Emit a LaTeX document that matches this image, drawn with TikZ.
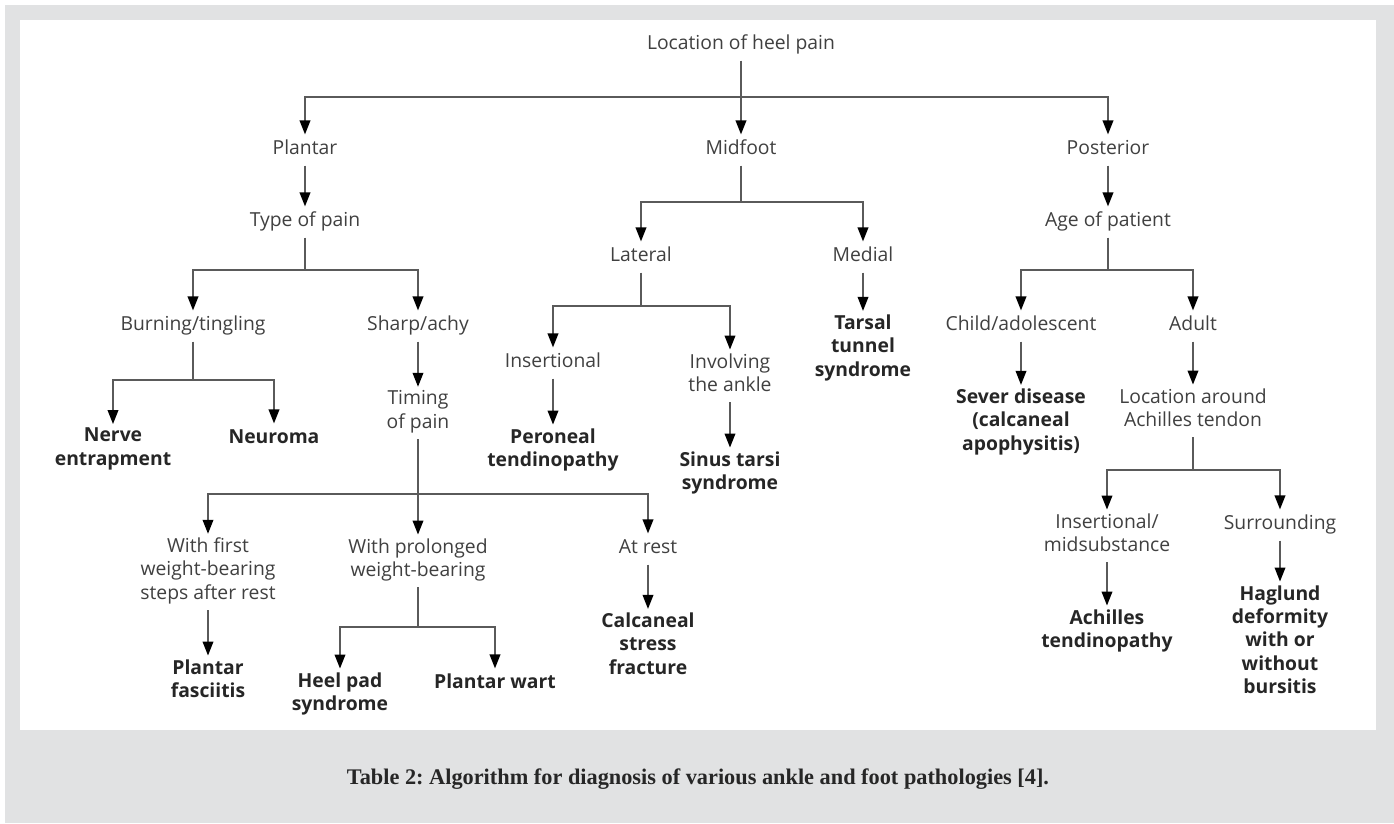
\documentclass[tikz,border=0pt]{standalone}
\usepackage{fontspec}
\setmainfont{Liberation Serif}
\newfontfamily\chartfont[Ligatures=NoCommon]{Open Sans}
\usetikzlibrary{arrows.meta}
\frenchspacing

\definecolor{panelgray}{HTML}{E1E2E3}
\definecolor{txtgray}{HTML}{404040}
\definecolor{linegray}{HTML}{5A5A5A}

\begin{document}
\begin{tikzpicture}[x=0.02cm, y=-0.02cm,
  lbl/.style={font=\chartfont\fontsize{11}{13.3}\selectfont, text=txtgray,
    align=center, inner xsep=1.5pt, inner ysep=2pt,
    execute at begin node=\strut, execute at end node=\strut},
  dx/.style={lbl, font=\chartfont\bfseries\fontsize{11}{13.3}\selectfont, text=black!85},
  ln/.style={linegray, line width=1.1pt},
  arr/.style={ln, -{Triangle[length=8pt, width=6pt, color=black]}}]

  % page and panel
  \useasboundingbox (0,0) rectangle (1394,823);
  \fill[panelgray] (5,5) rectangle (1394,823);
  \fill[white] (20,20) rectangle (1376,730);

  % top level
  \node[lbl] (root) at (741,45) {Location of heel pain};
  \node[lbl] (plantar) at (305,150) {Plantar};
  \node[lbl] (midfoot) at (741,150) {Midfoot};
  \node[lbl] (posterior) at (1108,150) {Posterior};
  \coordinate (top) at (741,97);

  % plantar branch
  \node[lbl] (typepain) at (305,222) {Type of pain};
  \coordinate (typesplit) at (305,270);
  \node[lbl] (burning) at (193,326) {Burning/tingling};
  \node[lbl] (sharp) at (418,326) {Sharp/achy};
  \coordinate (burnsplit) at (193,380);
  \node[dx] (nerve) at (113,450) {Nerve\\entrapment};
  \node[dx] (neuroma) at (274,439) {Neuroma};
  \node[lbl] (timing) at (418,413) {Timing\\of pain};
  \coordinate (timesplit) at (418,494);
  \node[lbl] (firststep) at (208,572) {With first\\weight-bearing\\steps after rest};
  \node[lbl] (prolonged) at (418,561) {With prolonged\\weight-bearing};
  \node[lbl] (atrest) at (648,549) {At rest};
  \node[dx] (fasciitis) at (208,682) {Plantar\\fasciitis};
  \coordinate (prolsplit) at (418,627);
  \node[dx] (heelpad) at (340,695) {Heel pad\\syndrome};
  \node[dx] (wart) at (495,684) {Plantar wart};
  \node[dx] (stress) at (648,647) {Calcaneal\\stress\\fracture};

  % midfoot branch
  \coordinate (midsplit) at (741,202);
  \node[lbl] (lateral) at (641,257) {Lateral};
  \node[lbl] (medial) at (863,257) {Medial};
  \coordinate (latsplit) at (641,306);
  \node[lbl] (insertional) at (553,363) {Insertional};
  \node[lbl] (involving) at (730,376) {Involving\\the ankle};
  \node[dx] (peroneal) at (553,451) {Peroneal\\tendinopathy};
  \node[dx] (sinus) at (730,474) {Sinus tarsi\\syndrome};
  \node[dx] (tarsal) at (863,349) {Tarsal\\tunnel\\syndrome};

  % posterior branch
  \node[lbl] (agepat) at (1108,222) {Age of patient};
  \coordinate (agesplit) at (1108,270);
  \node[lbl] (child) at (1021,326) {Child/adolescent};
  \node[lbl] (adult) at (1193,326) {Adult};
  \node[dx] (sever) at (1021,423) {Sever disease\\(calcaneal\\apophysitis)};
  \node[lbl] (achloc) at (1193,411) {Location around\\Achilles tendon};
  \coordinate (achsplit) at (1193,470);
  \node[lbl] (insmid) at (1107,536) {Insertional/\\midsubstance};
  \node[lbl] (surround) at (1280,525) {Surrounding};
  \node[dx] (achtend) at (1107,632) {Achilles\\tendinopathy};
  \node[dx] (haglund) at (1280,643) {Haglund\\deformity\\with or\\without\\bursitis};

  % connectors
  \draw[arr] (root) -- (midfoot);
  \draw[arr] (top) -| (plantar);
  \draw[arr] (top) -| (posterior);

  \draw[arr] (plantar) -- (typepain);
  \draw[ln] (typepain) -- (typesplit);
  \draw[arr] (typesplit) -| (burning);
  \draw[arr] (typesplit) -| (sharp);
  \draw[ln] (burning) -- (burnsplit);
  \draw[arr] (burnsplit) -| (nerve);
  \draw[arr] (burnsplit) -| (neuroma);
  \draw[arr] (sharp) -- (timing);
  \draw[arr] (timing) -- (prolonged);
  \draw[arr] (timesplit) -| (firststep);
  \draw[arr] (timesplit) -| (atrest);
  \draw[arr] (firststep) -- (fasciitis);
  \draw[ln] (prolonged) -- (prolsplit);
  \draw[arr] (prolsplit) -| (heelpad);
  \draw[arr] (prolsplit) -| (wart);
  \draw[arr] (atrest) -- (stress);

  \draw[ln] (midfoot) -- (midsplit);
  \draw[arr] (midsplit) -| (lateral);
  \draw[arr] (midsplit) -| (medial);
  \draw[ln] (lateral) -- (latsplit);
  \draw[arr] (latsplit) -| (insertional);
  \draw[arr] (latsplit) -| (involving);
  \draw[arr] (insertional) -- (peroneal);
  \draw[arr] (involving) -- (sinus);
  \draw[arr] (medial) -- (tarsal);

  \draw[arr] (posterior) -- (agepat);
  \draw[ln] (agepat) -- (agesplit);
  \draw[arr] (agesplit) -| (child);
  \draw[arr] (agesplit) -| (adult);
  \draw[arr] (child) -- (sever);
  \draw[arr] (adult) -- (achloc);
  \draw[ln] (achloc) -- (achsplit);
  \draw[arr] (achsplit) -| (insmid);
  \draw[arr] (achsplit) -| (surround);
  \draw[arr] (insmid) -- (achtend);
  \draw[arr] (surround) -- (haglund);

  % caption
  \node[font=\bfseries\fontsize{12.7}{15}\selectfont, text=black!85] (caption) at (698,779)
    {Table 2: Algorithm for diagnosis of various ankle and foot pathologies {[}4{]}.};
\end{tikzpicture}
\end{document}
